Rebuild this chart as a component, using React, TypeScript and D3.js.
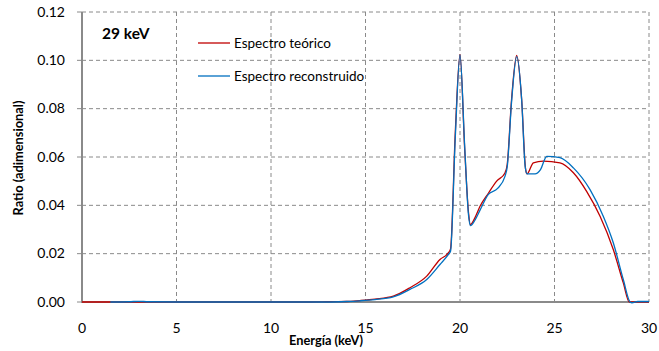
import React from 'react';
import * as d3 from 'd3';

// energy (keV) and ratio pairs
const redEnergy = [0, 2, 4, 6, 8, 10, 12, 13, 14, 14.7, 15.5, 16.47, 17.35, 18.24, 18.94, 19.38, 19.5, 19.75, 20, 20.25, 20.45, 20.55, 20.8, 21.06, 21.5, 21.94, 22.38, 22.5, 22.73, 23, 23.26, 23.47, 23.55, 23.88, 24.4, 25.29, 26, 26.7, 27.41, 28.11, 28.64, 28.96, 29.5, 30];
const redRatio = [0, 0, 0, 0, 0, 0, 0, 0.0001, 0.0002, 0.0006, 0.0012, 0.0024, 0.0059, 0.0107, 0.0176, 0.0203, 0.022, 0.07, 0.1025, 0.063, 0.037, 0.032, 0.035, 0.0396, 0.045, 0.05, 0.0534, 0.057, 0.084, 0.102, 0.084, 0.055, 0.053, 0.0576, 0.0583, 0.0576, 0.0535, 0.0458, 0.0355, 0.0217, 0.0079, 0, 0, 0];

const blueEnergy = [1.5, 2.5, 3, 3.5, 5, 10, 13, 14, 14.7, 15.5, 16.47, 17.35, 18.24, 18.94, 19.38, 19.5, 19.75, 20, 20.25, 20.45, 20.55, 20.8, 21.06, 21.5, 21.99, 22.38, 22.5, 22.73, 23, 23.26, 23.45, 23.55, 23.97, 24.26, 24.59, 25.29, 26, 26.88, 27.58, 28.11, 28.64, 29, 29.1, 29.4, 30];
const blueRatio = [0, 0.0001, 0.0003, 0.0001, 0, 0, 0, 0.0002, 0.0005, 0.001, 0.0021, 0.0052, 0.0093, 0.0155, 0.0196, 0.021, 0.068, 0.1022, 0.064, 0.036, 0.0316, 0.034, 0.038, 0.0445, 0.047, 0.052, 0.056, 0.083, 0.1015, 0.084, 0.056, 0.053, 0.053, 0.0548, 0.0603, 0.0597, 0.0555, 0.0465, 0.0355, 0.0245, 0.0093, 0, -0.0003, 0.0002, 0.0002];

const xTicks = [0, 5, 10, 15, 20, 25, 30];
const yTicks = [0, 0.02, 0.04, 0.06, 0.08, 0.1, 0.12];

const font = 'Lato, Calibri, sans-serif';

const App = () => {
  const width = 659;
  const height = 351;
  const left = 82, right = 649, top = 12, bottom = 302;

  const x = d3.scaleLinear().domain([0, 30]).range([left, right]);
  const y = d3.scaleLinear().domain([0, 0.12]).range([bottom, top]);

  const makePath = (xs: number[], ys: number[]) => {
    const pts: [number, number][] = xs.map((e, i) => [x(e), y(ys[i])]);
    return d3.line().curve(d3.curveMonotoneX)(pts) || '';
  };

  const grid = '#8a8a8a';

  return (
    <svg width={width} height={height} style={{ position: 'absolute', left: 0, top: 0 }}>
      <rect width={width} height={height} fill="#fff" />
      {/* horizontal grid */}
      {yTicks.filter(t => t > 0).map(t => (
        <line key={'hy' + t} x1={left} x2={right} y1={y(t)} y2={y(t)} stroke={grid} strokeWidth={1} strokeDasharray="4,3" />
      ))}
      {/* vertical grid */}
      {xTicks.filter(t => t > 0).map(t => (
        <line key={'vx' + t} x1={x(t)} x2={x(t)} y1={top} y2={bottom} stroke={grid} strokeWidth={1} strokeDasharray="4,3" />
      ))}
      {/* axes */}
      <line x1={left} x2={left} y1={top} y2={bottom + 1} stroke={grid} strokeWidth={2} />
      <line x1={left - 1} x2={right} y1={bottom} y2={bottom} stroke={grid} strokeWidth={2} />
      {yTicks.map(t => (
        <g key={'yt' + t}>
          <line x1={left - 5} x2={left} y1={y(t)} y2={y(t)} stroke={grid} strokeWidth={1} />
          <text x={left - 17} y={y(t) + 4.5} textAnchor="end" fontFamily={font} fontSize={14} fill="#000">{t.toFixed(2)}</text>
        </g>
      ))}
      {xTicks.map(t => (
        <text key={'xt' + t} x={x(t)} y={333} textAnchor="middle" fontFamily={font} fontSize={14} fill="#000">{t}</text>
      ))}
      <text x={326} y={345} textAnchor="middle" fontFamily={font} fontSize={12.8} fontWeight="bold">Energía (keV)</text>
      <text transform="translate(23,158) rotate(-90)" textAnchor="middle" fontFamily={font} fontSize={12.8} fontWeight="bold">Ratio (adimensional)</text>

      {/* series */}
      <path d={makePath(redEnergy, redRatio)} fill="none" stroke="#c00000" strokeWidth={1.3} />
      <path d={makePath(blueEnergy, blueRatio)} fill="none" stroke="#0070c0" strokeWidth={1.3} />

      {/* labels and legend */}
      <text x={102} y={39} fontFamily={font} fontSize={15.5} fontWeight="bold">29 keV</text>
      <line x1={198} x2={230} y1={43} y2={43} stroke="#c00000" strokeWidth={1.3} />
      <text x={234} y={47.5} fontFamily={font} fontSize={13.5} fill="#000">Espectro teórico</text>
      <line x1={198} x2={230} y1={76} y2={76} stroke="#0070c0" strokeWidth={1.3} />
      <text x={234} y={80.5} fontFamily={font} fontSize={13.5} fill="#000">Espectro reconstruido</text>
    </svg>
  );
};

export default App;
